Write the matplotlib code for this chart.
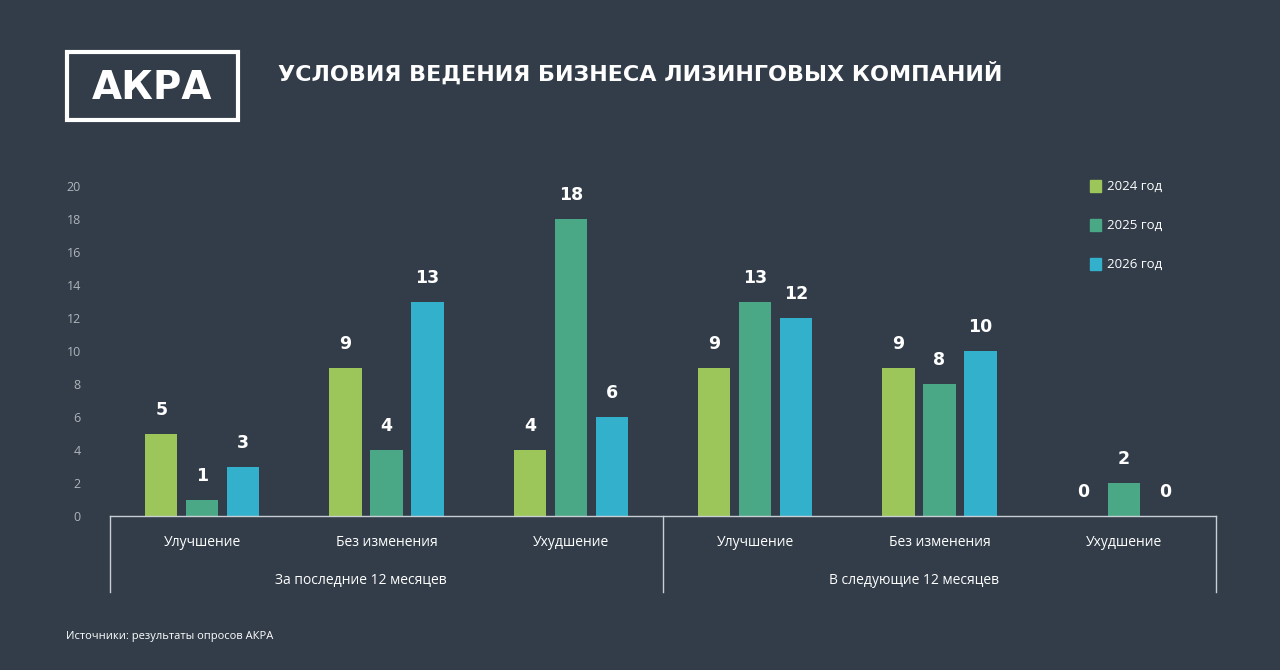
import numpy as np
import matplotlib.pyplot as plt
from matplotlib.patches import Rectangle

plt.rcParams['font.family'] = ['Open Sans', 'DejaVu Sans']

categories = ['Улучшение', 'Без изменения', 'Ухудшение',
              'Улучшение', 'Без изменения', 'Ухудшение']
periods = ['За последние 12 месяцев', 'В следующие 12 месяцев']
series_names = ['2024 год', '2025 год', '2026 год']
v2024 = [5, 9, 4, 9, 9, 0]
v2025 = [1, 4, 18, 13, 8, 2]
v2026 = [3, 13, 6, 12, 10, 0]
yticks = [0, 2, 4, 6, 8, 10, 12, 14, 16, 18, 20]

bg = '#323d49'
colors = ['#9dc65a', '#4aa886', '#33b0cc']
grey = '#c9ced4'

fig = plt.figure(figsize=(12.8, 6.7), dpi=100, facecolor=bg)
ax = fig.add_axes([110/1280, 1-516/670, 1106/1280, 330/670])
ax.set_facecolor(bg)

x = np.arange(len(categories))
w = 0.175
step = 0.222
for i, (vals, col, name) in enumerate(zip([v2024, v2025, v2026], colors, series_names)):
    pos = x + (i-1)*step
    ax.bar(pos, vals, width=w, color=col, label=name, zorder=2)
    for p, v in zip(pos, vals):
        ax.annotate(str(v), (p, v), xytext=(0, 17), textcoords='offset points',
                    ha='center', va='center', color='white', fontsize=12.5,
                    fontweight='bold', family='DejaVu Sans')

ax.set_xlim(-0.5, 5.5)
ax.set_ylim(0, 20)
ax.set_yticks(yticks)
ax.tick_params(axis='y', length=0, pad=21, labelsize=9, labelcolor='#aeb4bb')
ax.set_xticks([])
for s in ['top', 'right', 'left']:
    ax.spines[s].set_visible(False)
ax.spines['bottom'].set_color(grey)
ax.spines['bottom'].set_linewidth(1)

# category labels and group separators
tr = ax.get_xaxis_transform()
for xi, c in zip(x, categories):
    ax.text(xi, -0.079, c, transform=tr, ha='center', va='center', color='white', fontsize=10)
for k, p in enumerate(periods):
    ax.text(3*k + 0.86, -0.194, p, transform=tr, ha='center', va='center', color='white', fontsize=10)
for xv in [-0.5, 2.5, 5.5]:
    ax.plot([xv, xv], [0, -0.23], transform=tr, color=grey, lw=1, clip_on=False)

# legend
for i, (col, name) in enumerate(zip(colors, series_names)):
    yy = 1 - (186 + 39*i)/670
    fig.patches.append(Rectangle((1090/1280, yy - 6/670), 11/1280, 12/670,
                                 transform=fig.transFigure, color=col))
    fig.text(1107/1280, yy, name, color='white', fontsize=9.5, va='center', ha='left')

# logo and title
fig.patches.append(Rectangle((67/1280, 1-120/670), 171/1280, 68/670, transform=fig.transFigure,
                             fill=False, edgecolor='white', lw=3))
fig.text(152/1280, 1-88/670, 'АКРА', color='white', fontsize=28, ha='center', va='center',
         fontweight='semibold', family='DejaVu Sans')
fig.text(278/1280, 1-73/670, 'УСЛОВИЯ ВЕДЕНИЯ БИЗНЕСА ЛИЗИНГОВЫХ КОМПАНИЙ', color='white',
         fontsize=16, fontweight='bold', ha='left', va='center', family='DejaVu Sans')

fig.text(66/1280, 1-637/670, 'Источники: результаты опросов АКРА', color='white',
         fontsize=8, ha='left', va='center')

fig.savefig('out.png', dpi=100, facecolor=bg)
